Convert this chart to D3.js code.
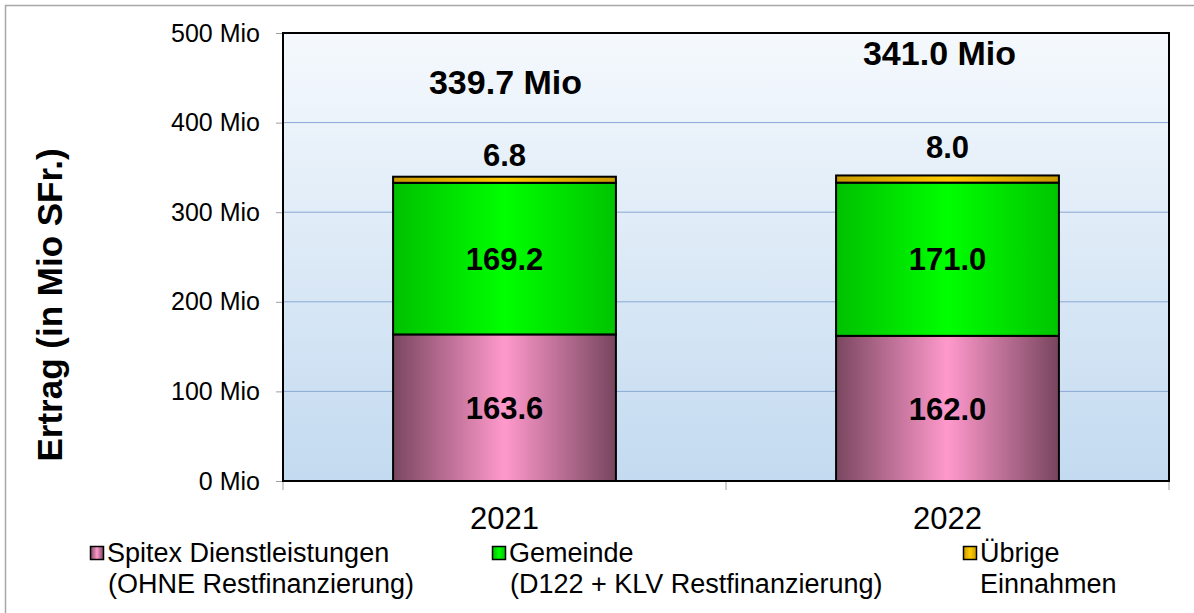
<!DOCTYPE html>
<html><head><meta charset="utf-8">
<script src="https://cdn.jsdelivr.net/npm/d3@7"></script>
<style>body{margin:0;background:#fff}svg{display:block;font-family:"Liberation Sans",Arial,sans-serif}</style>
</head><body>
<svg id="c" width="1194" height="613"></svg>
<script>
const years = ["2021", "2022"];
const spitex = [163.6, 162.0];
const gemeinde = [169.2, 171.0];
const uebrige = [6.8, 8.0];
const totals = ["339.7 Mio", "341.0 Mio"];
const yTicks = [0, 100, 200, 300, 400, 500];
const seriesNames = [["Spitex Dienstleistungen", "(OHNE Restfinanzierung)"], ["Gemeinde", "(D122 + KLV Restfinanzierung)"], ["Übrige", "Einnahmen"]];

const svg = d3.select("#c");
const m = {l: 283, r: 1169, t: 33, b: 481};
const x = d3.scaleBand().domain(years).range([m.l, m.r]).paddingInner(0.497).paddingOuter(0.2485);
const y = d3.scaleLinear().domain([0, 500]).range([m.b, m.t]);

const defs = svg.append("defs");
function hgrad(id, edge, mid) {
  const g = defs.append("linearGradient").attr("id", id).attr("x1", 0).attr("x2", 1).attr("y1", 0).attr("y2", 0);
  g.append("stop").attr("offset", "0%").attr("stop-color", edge[0]);
  g.append("stop").attr("offset", "50%").attr("stop-color", mid);
  g.append("stop").attr("offset", "100%").attr("stop-color", edge[1]);
}
hgrad("gPink", ["#7a4760", "#77455e"], "#ff99cc");
hgrad("gGreen", ["#00c000", "#00c400"], "#00ff00");
hgrad("gGold", ["#c99a00", "#c99a00"], "#ffcc00");
const bg = defs.append("linearGradient").attr("id", "gBg").attr("x1", 0).attr("x2", 0).attr("y1", 0).attr("y2", 1);
bg.append("stop").attr("offset", "0%").attr("stop-color", "#f5f9fd");
bg.append("stop").attr("offset", "100%").attr("stop-color", "#c3daf0");

// outer border
svg.append("rect").attr("x", 5.5).attr("y", 5.5).attr("width", 1200).attr("height", 640)
  .attr("fill", "none").attr("stroke", "#a6a6a6").attr("stroke-width", 1.5);

// plot background
svg.append("rect").attr("x", m.l).attr("y", m.t).attr("width", m.r - m.l).attr("height", m.b - m.t).attr("fill", "url(#gBg)");

// gridlines
svg.append("g").selectAll("line").data(yTicks.filter(d => d > 0 && d < 500)).join("line")
  .attr("x1", m.l).attr("x2", m.r).attr("y1", d => y(d)).attr("y2", d => y(d))
  .attr("stroke", "#8aa8d4").attr("stroke-width", 1);

// y axis
const ya = svg.append("g").attr("transform", `translate(${m.l},0)`)
  .call(d3.axisLeft(y).tickValues(yTicks).tickFormat(d => d + " Mio").tickSize(7).tickPadding(16));
ya.select(".domain").remove();
ya.selectAll(".tick line").attr("stroke", "#a0a0a0");
ya.selectAll(".tick text").attr("font-size", 25).attr("fill", "#000").attr("font-family", "Liberation Sans, Arial, sans-serif");

// x axis ticks (category separators)
const xTickPos = [m.l, (m.l + m.r) / 2, m.r];
svg.append("g").selectAll("line").data(xTickPos).join("line")
  .attr("x1", d => d).attr("x2", d => d).attr("y1", m.b).attr("y2", m.b + 9).attr("stroke", "#a0a0a0");
svg.append("g").selectAll("text").data(years).join("text")
  .attr("x", d => x(d) + x.bandwidth() / 2).attr("y", 529).attr("text-anchor", "middle")
  .attr("font-size", 31).text(d => d);

// stacked bars
const rows = years.map((yr, i) => ({yr, a: spitex[i], b: gemeinde[i], c: uebrige[i]}));
const stack = d3.stack().keys(["a", "b", "c"])(rows);
const fills = ["url(#gPink)", "url(#gGreen)", "url(#gGold)"];
const gBars = svg.append("g");
stack.forEach((s, k) => {
  gBars.append("g").selectAll("rect").data(s).join("rect")
    .attr("x", d => x(d.data.yr)).attr("width", x.bandwidth())
    .attr("y", d => y(d[1])).attr("height", d => y(d[0]) - y(d[1]))
    .attr("fill", fills[k]).attr("stroke", "#000").attr("stroke-width", 2);
});

// plot border
svg.append("rect").attr("x", m.l).attr("y", m.t).attr("width", m.r - m.l).attr("height", m.b - m.t)
  .attr("fill", "none").attr("stroke", "#000").attr("stroke-width", 2);

// segment labels
[0, 1].forEach(k => {
  svg.append("g").selectAll("text").data(stack[k]).join("text")
    .attr("x", d => x(d.data.yr) + x.bandwidth() / 2).attr("y", d => y((d[0] + d[1]) / 2))
    .attr("dy", "0.36em").attr("text-anchor", "middle").attr("font-size", 31).attr("font-weight", "bold")
    .text(d => (d[1] - d[0]).toFixed(1));
});
const topOff = [22, 29];
svg.append("g").selectAll("text").data(stack[2]).join("text")
  .attr("x", d => x(d.data.yr) + x.bandwidth() / 2).attr("y", (d, i) => y(d[1]) - topOff[i])
  .attr("dy", "0.36em").attr("text-anchor", "middle").attr("font-size", 31).attr("font-weight", "bold")
  .text(d => (d[1] - d[0]).toFixed(1));

// totals
const totPos = [{dx: 1, yv: 446}, {dx: -8, yv: 478}];
svg.append("g").selectAll("text").data(totals).join("text")
  .attr("x", (d, i) => x(years[i]) + x.bandwidth() / 2 + totPos[i].dx).attr("y", (d, i) => y(totPos[i].yv))
  .attr("dy", "0.36em").attr("text-anchor", "middle").attr("font-size", 34).attr("font-weight", "bold")
  .text(d => d);

// y title
svg.append("text").attr("transform", "translate(62,305) rotate(-90)").attr("text-anchor", "middle")
  .attr("font-size", 35).attr("font-weight", "bold").text("Ertrag (in Mio SFr.)");

// legend
const legX = [90, 492, 963];
const swFill = ["url(#gPink)", "url(#gGreen)", "url(#gGold)"];
const lg = svg.append("g").selectAll("g").data(seriesNames).join("g")
  .attr("transform", (d, i) => `translate(${legX[i]},0)`);
lg.append("rect").attr("x", 0.5).attr("y", 546.5).attr("width", 13).attr("height", 13)
  .attr("fill", (d, i) => swFill[i]).attr("stroke", "#000").attr("stroke-width", 1.5);
lg.append("text").attr("x", 17).attr("y", 562).attr("font-size", 27).text(d => d[0]);
lg.append("text").attr("x", (d, i) => i === 2 ? 17 : 18).attr("y", 593).attr("font-size", 27).text(d => d[1]);
</script>
</body></html>
